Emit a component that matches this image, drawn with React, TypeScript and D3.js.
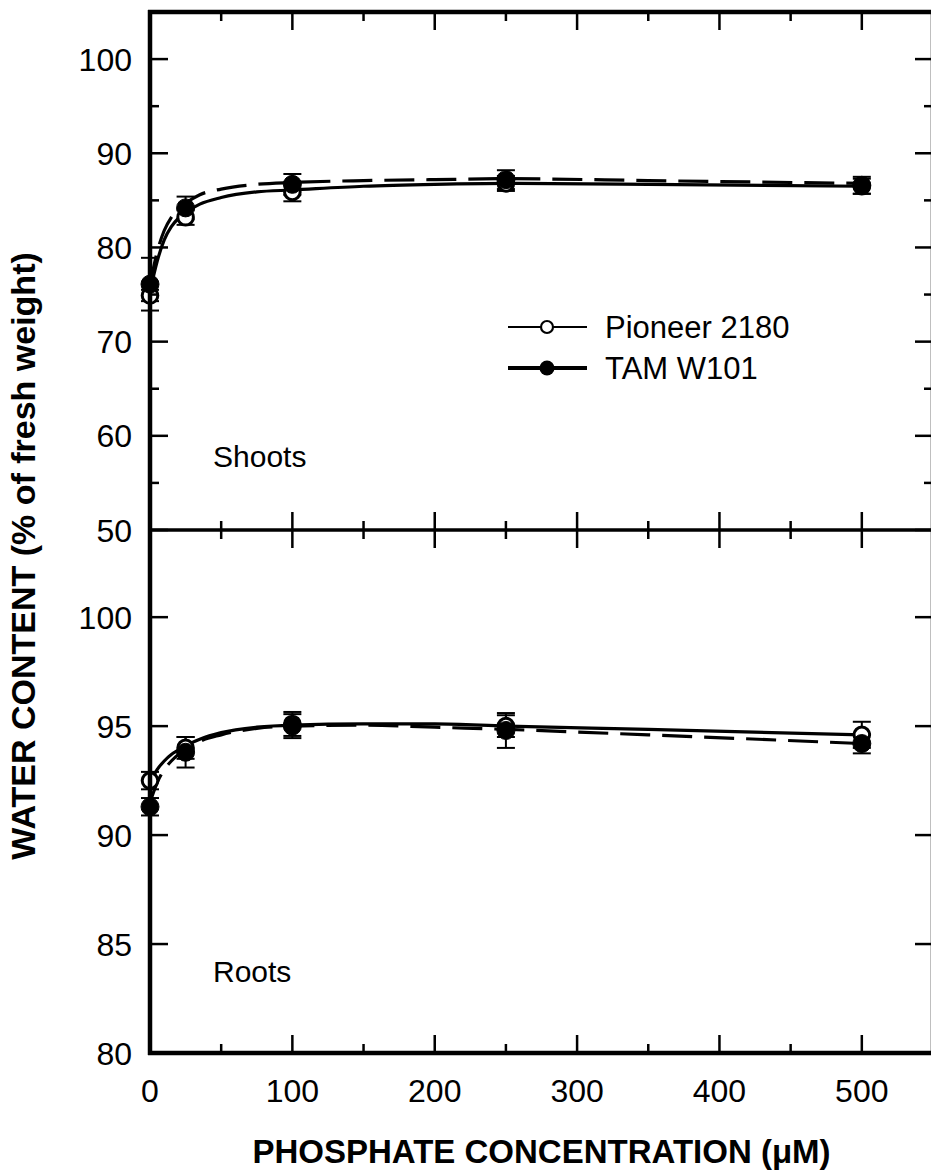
import React from "react";
import * as d3 from "d3";

// ---------- data ----------
const concentrations = [0, 25, 100, 250, 500];

// Shoots
const shootsPioneer = [74.9, 83.2, 85.9, 86.8, 86.5];
const shootsPioneerErr = [0.6, 0.8, 1.0, 0.8, 0.8];
const shootsTAM = [76.1, 84.2, 86.7, 87.2, 86.6];
const shootsTAMErr = [2.8, 1.2, 1.1, 1.0, 0.9];

// Roots
const rootsPioneer = [92.5, 94.0, 95.1, 95.0, 94.6];
const rootsPioneerErr = [0.4, 0.5, 0.55, 0.5, 0.6];
const rootsTAM = [91.3, 93.8, 95.0, 94.8, 94.2];
const rootsTAMErr = [0.4, 0.7, 0.55, 0.8, 0.45];

// fitted curves
const curveX = [0, 5, 10, 15, 20, 25, 35, 50, 75, 100, 150, 200, 250, 350, 500];
const shootsPioneerFit = [75.3, 78.5, 80.8, 82.2, 83.1, 83.7, 84.6, 85.3, 85.9, 86.1, 86.5, 86.7, 86.8, 86.7, 86.5];
const shootsTAMFit = [76.0, 79.5, 81.8, 83.2, 84.1, 84.7, 85.6, 86.2, 86.7, 86.9, 87.1, 87.2, 87.3, 87.1, 86.8];
const rootsPioneerFit = [92.4, 93.0, 93.4, 93.7, 93.9, 94.1, 94.4, 94.7, 94.95, 95.05, 95.1, 95.1, 95.0, 94.85, 94.6];
const rootsTAMFit = [91.5, 92.4, 93.0, 93.4, 93.7, 93.9, 94.3, 94.6, 94.9, 95.0, 95.05, 94.95, 94.85, 94.6, 94.2];

const xTickLabels = [0, 100, 200, 300, 400, 500];
const xTicksAll = [0, 50, 100, 150, 200, 250, 300, 350, 400, 450, 500, 550];
const shootsMajor = [50, 60, 70, 80, 90, 100];
const shootsMinor = [55, 65, 75, 85, 95];
const rootsMajor = [80, 85, 90, 95, 100];

const legendLabels = ["Pioneer 2180", "TAM W101"];
const panelLabels = ["Shoots", "Roots"];
const xTitle = "PHOSPHATE CONCENTRATION (\u03bcM)";
const yTitle = "WATER CONTENT (% of fresh weight)";

// ---------- layout ----------
const W = 931;
const H = 1174;
const left = 150;
const right = 933;
const top = 12;
const mid = 530;
const bottom = 1053;
const FONT = "'Liberation Sans', Arial, sans-serif";

export default function App() {
  const x = d3.scaleLinear().domain([0, 550]).range([left, right]);
  const yS = d3.scaleLinear().domain([50, 105]).range([mid, top]);
  const yR = d3.scaleLinear().domain([80, 104]).range([bottom, mid]);

  const mkLine = (y: d3.ScaleLinear<number, number>) =>
    d3
      .line<[number, number]>()
      .x((d) => x(d[0]))
      .y((d) => y(d[1]))
      .curve(d3.curveMonotoneX);

  const lineS = mkLine(yS);
  const lineR = mkLine(yR);
  const zip = (a: number[], b: number[]) => a.map((v, i) => [v, b[i]] as [number, number]);

  const errBars = (
    y: d3.ScaleLinear<number, number>,
    vals: number[],
    errs: number[],
    key: string
  ) =>
    concentrations.map((c, i) => {
      const cx = x(c);
      const y1 = y(vals[i] + errs[i]);
      const y2 = y(vals[i] - errs[i]);
      return (
        <g key={key + i} stroke="#000" strokeWidth={2}>
          <line x1={cx} x2={cx} y1={y1} y2={y2} />
          <line x1={cx - 9} x2={cx + 9} y1={y1} y2={y1} />
          <line x1={cx - 9} x2={cx + 9} y1={y2} y2={y2} />
        </g>
      );
    });

  const markers = (
    y: d3.ScaleLinear<number, number>,
    vals: number[],
    filled: boolean,
    key: string
  ) =>
    concentrations.map((c, i) => (
      <circle
        key={key + i}
        cx={x(c)}
        cy={y(vals[i])}
        r={filled ? 9 : 7.8}
        fill={filled ? "#000" : "#fff"}
        stroke="#000"
        strokeWidth={filled ? 1 : 3}
      />
    ));

  const xTicks = (yPos: number, dir: number, key: string) =>
    xTicksAll.map((t) => {
      const len = t % 100 === 0 ? 18 : 9;
      return (
        <line
          key={key + t}
          x1={x(t)}
          x2={x(t)}
          y1={yPos}
          y2={yPos + dir * len}
          stroke="#000"
          strokeWidth={2.5}
        />
      );
    });

  const yTicks = (
    y: d3.ScaleLinear<number, number>,
    vals: number[],
    len: number,
    key: string
  ) =>
    vals.map((v) => (
      <g key={key + v} stroke="#000" strokeWidth={2.5}>
        <line x1={left} x2={left + len} y1={y(v)} y2={y(v)} />
        <line x1={right} x2={right - len} y1={y(v)} y2={y(v)} />
      </g>
    ));

  return (
    <svg width={W} height={H} style={{ display: "block", position: "absolute", left: 0, top: 0 }}>
      <rect width={W} height={H} fill="#fff" />

      {/* fitted curves */}
      <path d={lineS(zip(curveX, shootsPioneerFit)) || ""} fill="none" stroke="#000" strokeWidth={3.2} />
      <path d={lineS(zip(curveX, shootsTAMFit)) || ""} fill="none" stroke="#000" strokeWidth={3.2} strokeDasharray="30,12" />
      <path d={lineR(zip(curveX, rootsPioneerFit)) || ""} fill="none" stroke="#000" strokeWidth={3.2} />
      <path d={lineR(zip(curveX, rootsTAMFit)) || ""} fill="none" stroke="#000" strokeWidth={3.2} strokeDasharray="30,12" />

      {/* error bars */}
      {errBars(yS, shootsPioneer, shootsPioneerErr, "esp")}
      {errBars(yS, shootsTAM, shootsTAMErr, "est")}
      {errBars(yR, rootsPioneer, rootsPioneerErr, "erp")}
      {errBars(yR, rootsTAM, rootsTAMErr, "ert")}

      {/* markers */}
      {markers(yS, shootsPioneer, false, "msp")}
      {markers(yS, shootsTAM, true, "mst")}
      {markers(yR, rootsPioneer, false, "mrp")}
      {markers(yR, rootsTAM, true, "mrt")}

      {/* ticks */}
      {xTicks(top, 1, "tt")}
      {xTicks(mid, -1, "tm1")}
      {xTicks(mid, 1, "tm2")}
      {xTicks(bottom, -1, "tb")}
      {yTicks(yS, shootsMajor, 18, "sM")}
      {yTicks(yS, shootsMinor, 9, "sm")}
      {yTicks(yR, rootsMajor, 18, "rM")}

      {/* frame */}
      <g stroke="#000" fill="none">
        <line x1={left - 2} x2={right + 2} y1={top} y2={top} strokeWidth={4.5} />
        <line x1={left} x2={right} y1={mid} y2={mid} strokeWidth={3.5} />
        <line x1={left - 2} x2={right + 2} y1={bottom} y2={bottom} strokeWidth={4.5} />
        <line x1={left} x2={left} y1={top - 2} y2={bottom + 2} strokeWidth={4.5} />
        <line x1={right} x2={right} y1={top - 2} y2={bottom + 2} strokeWidth={4.5} />
      </g>

      {/* y tick labels */}
      <g fontFamily={FONT} fontSize={32} textAnchor="end">
        {shootsMajor.map((v) => (
          <text key={"ls" + v} x={left - 18} y={yS(v)} dy="0.36em">
            {v}
          </text>
        ))}
        {rootsMajor.map((v) => (
          <text key={"lr" + v} x={left - 18} y={yR(v)} dy="0.36em">
            {v}
          </text>
        ))}
      </g>

      {/* x tick labels */}
      <g fontFamily={FONT} fontSize={32} textAnchor="middle">
        {xTickLabels.map((t) => (
          <text key={"lx" + t} x={x(t)} y={1102}>
            {t}
          </text>
        ))}
      </g>

      {/* panel labels */}
      <text x={213} y={467} fontFamily={FONT} fontSize={30}>
        {panelLabels[0]}
      </text>
      <text x={213} y={982} fontFamily={FONT} fontSize={30}>
        {panelLabels[1]}
      </text>

      {/* legend */}
      <g>
        <line x1={508} x2={587} y1={327} y2={327} stroke="#000" strokeWidth={2} />
        <circle cx={547} cy={327} r={6} fill="#fff" stroke="#000" strokeWidth={2.2} />
        <text x={605} y={338} fontFamily={FONT} fontSize={31}>
          {legendLabels[0]}
        </text>
        <line x1={508} x2={587} y1={368} y2={368} stroke="#000" strokeWidth={4} />
        <circle cx={547} cy={368} r={7.5} fill="#000" />
        <text x={605} y={379} fontFamily={FONT} fontSize={31}>
          {legendLabels[1]}
        </text>
      </g>

      {/* axis titles */}
      <text
        x={(left + right) / 2}
        y={1163}
        textAnchor="middle"
        fontFamily={FONT}
        fontSize={33}
        fontWeight="bold"
      >
        {xTitle}
      </text>
      <text
        transform={`translate(35, 556) rotate(-90)`}
        textAnchor="middle"
        fontFamily={FONT}
        fontSize={34}
        fontWeight="bold"
      >
        {yTitle}
      </text>
    </svg>
  );
}
